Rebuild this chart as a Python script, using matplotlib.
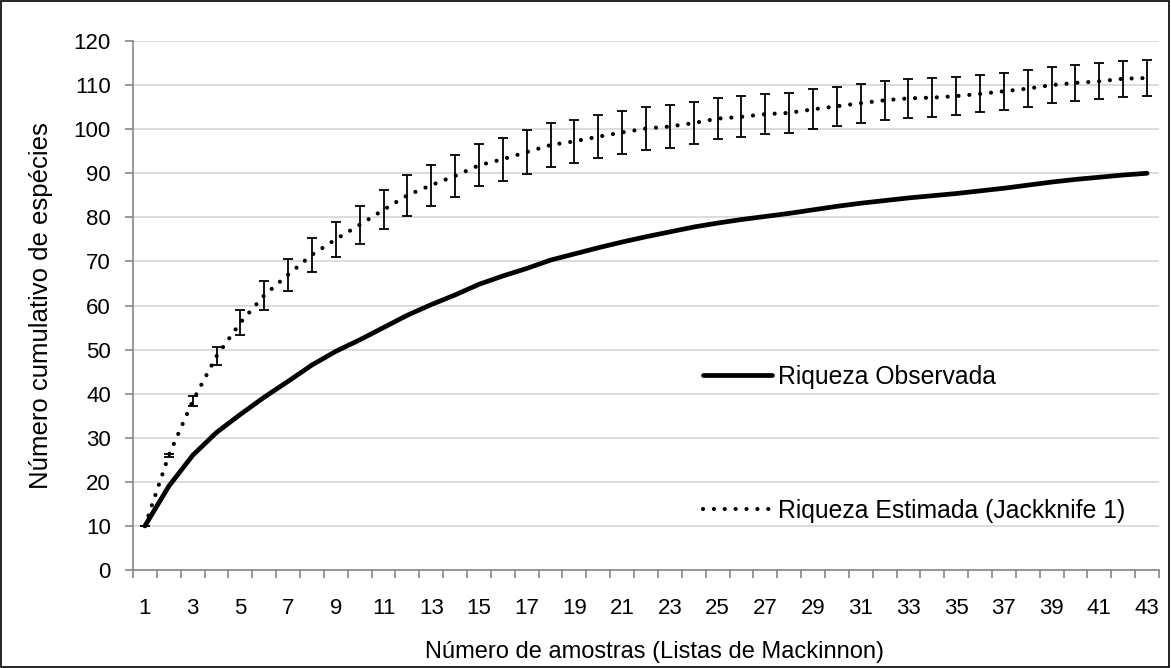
import matplotlib
matplotlib.use("Agg")
import matplotlib.pyplot as plt
from matplotlib.lines import Line2D
from matplotlib.patches import Rectangle

plt.rcParams['font.family'] = ['Liberation Sans', 'DejaVu Sans']

amostras = list(range(1, 44))
riqueza_observada = [10, 19, 26, 31.2, 35.3, 39.2, 42.8, 46.5, 49.6, 52.2,
                     55.0, 57.8, 60.2, 62.4, 64.8, 66.7, 68.4, 70.3, 71.7, 73.1,
                     74.4, 75.6, 76.7, 77.8, 78.7, 79.5, 80.2, 80.9, 81.7, 82.5,
                     83.2, 83.8, 84.4, 84.9, 85.4, 86.0, 86.6, 87.3, 88.0, 88.6,
                     89.1, 89.6, 90.0]
riqueza_jackknife = [10, 26, 38.3, 48.5, 56.1, 62.3, 67.0, 71.5, 75.0, 78.3,
                     81.7, 85.0, 87.3, 89.4, 91.8, 93.2, 94.8, 96.4, 97.25, 98.3,
                     99.25, 100.15, 100.6, 101.4, 102.4, 102.8, 103.4, 103.7, 104.5, 105.2,
                     105.9, 106.55, 107.0, 107.15, 107.5, 108.0, 108.6, 109.2, 110.0, 110.5,
                     110.85, 111.45, 111.6]
erro_jackknife = [0, 0.3, 1.2, 2.0, 2.9, 3.3, 3.6, 3.85, 4.05, 4.35,
                  4.45, 4.6, 4.65, 4.7, 4.8, 4.85, 4.95, 4.9, 4.85, 4.9,
                  4.85, 4.85, 4.8, 4.8, 4.7, 4.65, 4.6, 4.5, 4.5, 4.4,
                  4.4, 4.45, 4.4, 4.35, 4.3, 4.2, 4.2, 4.2, 4.05, 4.1,
                  4.05, 4.05, 4.0]
x_tick_labels = [str(v) for v in range(1, 44, 2)]
y_ticks = list(range(0, 121, 10))

FS = 16

fig = plt.figure(figsize=(11.71, 6.68), dpi=100)
ax = fig.add_axes([133/1171, 1-570/668, (1159-133)/1171, (570-41)/668])

ax.set_xlim(0.5, 43.5)
ax.set_ylim(0, 120)

# gridlines
ax.set_yticks(y_ticks)
ax.yaxis.grid(True, color='#d9d9d9', linewidth=1.3)
ax.set_axisbelow(True)

# series
ax.errorbar(amostras, riqueza_jackknife, yerr=erro_jackknife, fmt='none',
            ecolor='black', elinewidth=1.3, capsize=3.4, capthick=1.3, zorder=3)
ax.plot(amostras, riqueza_jackknife, color='black', linewidth=3.0,
        linestyle=(0, (0.01, 2.6)), dash_capstyle='round', zorder=4)
ax.plot(amostras, riqueza_observada, color='black', linewidth=3.4,
        solid_capstyle='round', solid_joinstyle='round', zorder=5)

# axes styling
for s in ['top', 'right']:
    ax.spines[s].set_visible(False)
for s in ['left', 'bottom']:
    ax.spines[s].set_color('#868686')
    ax.spines[s].set_linewidth(1.2)

ax.set_xticks(list(range(1, 44, 2)))
ax.set_xticklabels(x_tick_labels)
ax.set_xticks([i + 0.5 for i in range(0, 44)], minor=True)
ax.tick_params(axis='x', which='major', length=0, pad=20, labelsize=FS)
ax.tick_params(axis='x', which='minor', length=6, width=1.2, color='#868686', direction='out')
ax.tick_params(axis='y', which='major', length=6, width=1.2, color='#868686', pad=10, labelsize=FS)

ax.set_xlabel('Número de amostras (Listas de Mackinnon)', fontsize=17, labelpad=16)
ax.xaxis.label.set_x(0.508)
ax.set_ylabel('Número cumulativo de espécies', fontsize=18.5, labelpad=15)

# legend
handles = [Line2D([], [], color='black', linewidth=3.4, solid_capstyle='round'),
           Line2D([], [], color='black', linewidth=3.0, linestyle=(0, (0.01, 2.6)),
                  dash_capstyle='round')]
labels = ['Riqueza Observada', 'Riqueza Estimada (Jackknife 1)']
ax.legend(handles, labels, loc='upper left', bbox_to_anchor=(0.5556, 0.388),
          frameon=False, fontsize=17.8, handlelength=2.8, handletextpad=0.22,
          labelspacing=4.45, borderpad=0, borderaxespad=0)

fig.patches.append(Rectangle((0.0005, 0.0008), 0.998, 0.998, transform=fig.transFigure,
                             fill=False, edgecolor='black', linewidth=1.2))

fig.savefig('out.png', dpi=100)
